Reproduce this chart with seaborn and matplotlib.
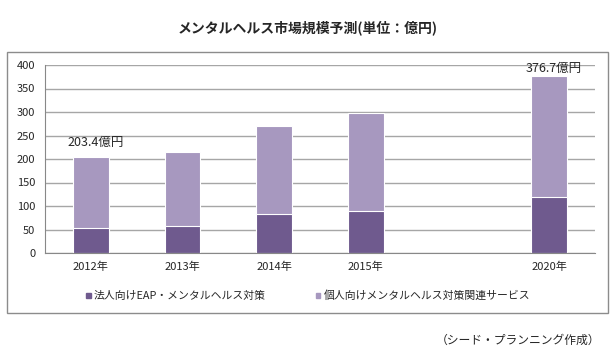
import matplotlib.pyplot as plt
import matplotlib.patches as mpatches
import pandas as pd
import seaborn as sns

sns.set_style("white")
plt.rcParams['font.family'] = ['Noto Sans CJK JP', 'DejaVu Sans']

# data (unit: 億円)
years = ["2012年", "2013年", "2014年", "2015年", "2020年"]
corporate = [53, 57, 83, 89, 119]          # 法人向けEAP・メンタルヘルス対策
total = [203.4, 214, 270, 297, 376.7]      # total market
total_labels = {"2012年": "203.4億円", "2020年": "376.7億円"}
order = ["2012年", "2013年", "2014年", "2015年", " ", "2020年"]

dark = "#6f5a8e"
light = "#a798bf"

df = pd.DataFrame({"year": years, "corporate": corporate, "total": total})

fig = plt.figure(figsize=(6.16, 3.54), dpi=100)
ax = fig.add_axes([45 / 616, 1 - 253 / 354, 550 / 616, 188 / 354])

# stacked bars: draw total first, corporate part on top of it
sns.barplot(data=df, x="year", y="total", order=order, color=light, width=0.39,
            saturation=1, edgecolor="white", linewidth=0.8, ax=ax)
sns.barplot(data=df, x="year", y="corporate", order=order, color=dark, width=0.39,
            saturation=1, edgecolor="white", linewidth=0.8, ax=ax)

ax.set_ylim(0, 400)
ax.set_xlim(-0.5, 5.5)
ax.set_yticks(range(0, 401, 50))
ax.yaxis.grid(True, color="#a6a6a6", linewidth=1)
ax.set_axisbelow(True)
ax.set_xlabel("")
ax.set_ylabel("")
for s in ["top", "right"]:
    ax.spines[s].set_visible(False)
for s in ["left", "bottom"]:
    ax.spines[s].set_color("#888888")
ax.tick_params(axis="y", length=4, color="#888888", labelsize=8, pad=3)
ax.tick_params(axis="x", length=0, labelsize=8, pad=6)
ax.set_xticks([i - 0.5 for i in range(7)], minor=True)
ax.tick_params(axis="x", which="minor", length=4, color="#888888")

# label offsets above bar tops (the 2020 label is squeezed under the frame)
label_offset = {"2012年": 19, "2020年": 2}
for i, y in enumerate(order):
    if y in total_labels:
        v = total[years.index(y)]
        ax.text(i + 0.05, v + label_offset[y], total_labels[y], ha="center", va="bottom",
                fontsize=9)

fig.text(0.5, 1 - 28 / 354, "メンタルヘルス市場規模予測(単位：億円)", ha="center", va="center",
         fontsize=10, fontweight="bold")

handles = [mpatches.Patch(color=dark, label="法人向けEAP・メンタルヘルス対策"),
           mpatches.Patch(color=light, label="個人向けメンタルヘルス対策関連サービス")]
fig.legend(handles=handles, loc="center", bbox_to_anchor=(0.5, 1 - 296 / 354), ncol=2,
           frameon=False, fontsize=7.8, handlelength=0.45, handleheight=0.45,
           handletextpad=0.3, columnspacing=4.6)

fig.patches.append(mpatches.Rectangle((7 / 616, 1 - 313 / 354), 601 / 616, 261 / 354,
                                      transform=fig.transFigure, fill=False,
                                      edgecolor="#8c8c8c", linewidth=1))

fig.text(600 / 616, 1 - 340 / 354, "（シード・プランニング作成）", ha="right", va="center", fontsize=8.5)

plt.savefig("out.png", dpi=100)
